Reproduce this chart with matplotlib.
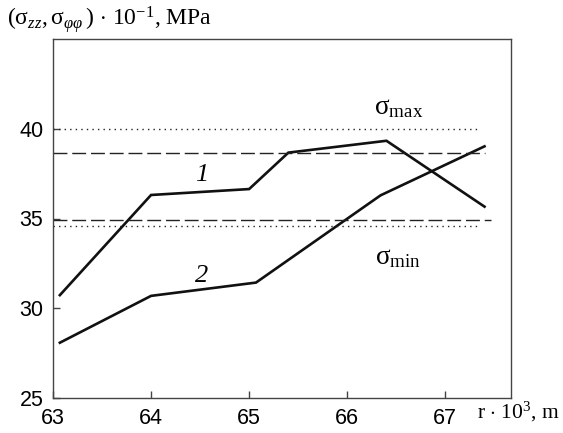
import matplotlib
matplotlib.use("Agg")
import matplotlib.pyplot as plt

# data
r1 = [63.07, 64.0, 65.0, 65.40, 66.40, 67.40]
s1 = [30.73, 36.31, 36.64, 38.67, 39.33, 35.66]
r2 = [63.07, 64.0, 65.07, 66.34, 67.40]
s2 = [28.08, 30.69, 31.43, 36.29, 39.02]
sigma_max_dot = 40.0
sigma_min_dot = 34.6
upper_dash = 38.67
lower_dash = 34.93
xticks = [63, 64, 65, 66, 67]
yticks = [25, 30, 35, 40]

plt.rcParams['mathtext.fontset'] = 'custom'
plt.rcParams['mathtext.rm'] = 'Liberation Serif'
plt.rcParams['mathtext.it'] = 'Liberation Serif:italic'
plt.rcParams['mathtext.bf'] = 'Liberation Serif:bold'

fig = plt.figure(figsize=(5.63, 4.33), dpi=100)
ax = fig.add_axes([53/563, 1-398/433, (511-53)/563, (398-39)/433])

ax.plot(r1, s1, color='#111111', lw=1.9, solid_joinstyle='miter')
ax.plot(r2, s2, color='#111111', lw=1.9, solid_joinstyle='miter')

ax.plot([63.0, 67.34], [sigma_max_dot]*2, color='#222222', lw=1.0, dashes=(1, 3))
ax.plot([63.0, 67.34], [sigma_min_dot]*2, color='#222222', lw=1.0, dashes=(1, 3))
ax.plot([63.0, 67.40], [upper_dash]*2, color='#222222', lw=1.0, dashes=(10, 3.5))
ax.plot([63.0, 67.47], [lower_dash]*2, color='#222222', lw=1.0, dashes=(10, 3.5))

ax.set_xlim(63, 67.67)
ax.set_ylim(25, 45)
ax.set_xticks(xticks)
ax.set_yticks(yticks)
ax.set_xticklabels([str(t) for t in xticks], fontfamily='Liberation Sans', fontsize=15.5)
ax.set_yticklabels([str(t) for t in yticks], fontfamily='Liberation Sans', fontsize=15.5)
ax.tick_params(direction='in', length=5, width=1.0, color='#444444')
ax.tick_params(axis='x', pad=7)
ax.tick_params(axis='y', pad=7)
for sp in ax.spines.values():
    sp.set_color('#444444')
    sp.set_linewidth(1.0)

ax.text(64.52, 37.45, '1', fontfamily='Liberation Serif', style='italic', fontsize=19,
        ha='center', va='center')
ax.text(64.52, 31.8, '2', fontfamily='Liberation Serif', style='italic', fontsize=19,
        ha='center', va='center')
ax.text(66.52, 41.2, r'$\mathrm{σ}_{\mathrm{max}}$', fontsize=19.5, ha='center', va='center')
ax.text(66.52, 32.85, r'$\mathrm{σ}_{\mathrm{min}}$', fontsize=19.5, ha='center', va='center')

fig.text(7/563, 1-20/433, r'$(\mathrm{σ}_{zz},\mathrm{σ}_{\varphi\varphi}\,)\,\cdot\,10^{-1}$, MPa',
         fontfamily='Liberation Serif', fontsize=17, ha='left', va='center')
fig.text(560/563, 1-412/433, r'r $\cdot$ 10$^3$, m',
         fontfamily='Liberation Serif', fontsize=15.5, ha='right', va='center')

fig.savefig('out.png', dpi=100)
